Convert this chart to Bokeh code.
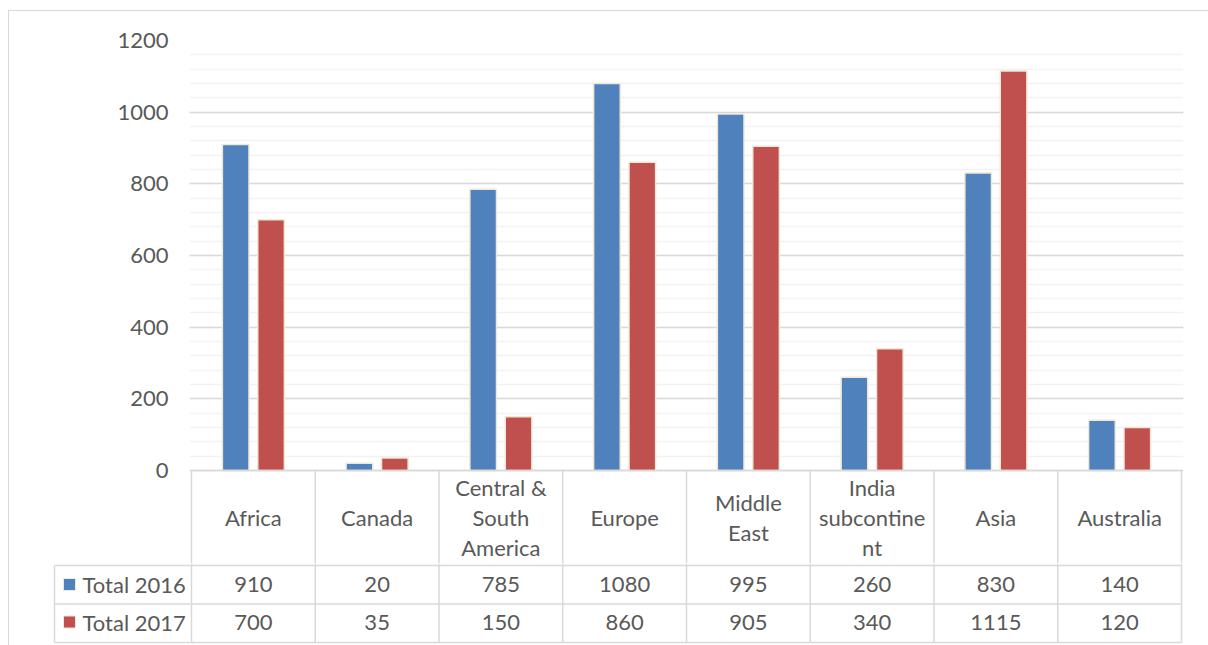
from bokeh.plotting import figure
from bokeh.layouts import column
from bokeh.models import Range1d, SingleIntervalTicker
from bokeh.core.properties import value
from bokeh.embed import file_html
from bokeh.resources import INLINE

# ---------------- data ----------------
categories = ["Africa", "Canada", "Central &\nSouth\nAmerica", "Europe", "Middle\nEast",
              "India\nsubcontine\nnt", "Asia", "Australia"]
series_names = ["Total 2016", "Total 2017"]
total_2016 = [910, 20, 785, 1080, 995, 260, 830, 140]
total_2017 = [700, 35, 150, 860, 905, 340, 1115, 120]
y_max = 1200
y_step = 200

# ---------------- style ----------------
BLUE = "#4F81BD"
RED = "#C0504D"
EDGE = "#EEE8D6"
TXT = "#595959"
GRID = "#D9D9D9"
MINOR = "#F2F2F2"
FONT = "Lato"
FS = "22px"

n = len(categories)
CAT_PX = 123.75          # pixels per category
PAD = 2 / CAT_PX         # small pad so edge lines are not clipped
off = 0.143
bw = 0.215
centers = [i + 0.5 for i in range(n)]

# top figure geometry (pixels inside the page)
FRAME_TOP = 40
FRAME_ZERO = 470
TOP_BOTTOM = 563
upp = y_max / (FRAME_ZERO - FRAME_TOP)          # data units per pixel
y_low = -(TOP_BOTTOM - FRAME_ZERO) * upp
header_mid = -(517 - FRAME_ZERO) * upp

p = figure(width=1199, height=TOP_BOTTOM - 11, x_range=Range1d(-PAD, n + PAD),
           y_range=Range1d(y_low, y_max), output_backend="svg", toolbar_location=None,
           min_border_left=180, min_border_right=25, min_border_top=FRAME_TOP - 11,
           min_border_bottom=0)
p.frame_align = False
p.xaxis.visible = False
p.outline_line_color = None
p.background_fill_color = "white"
p.border_fill_color = "white"
p.xgrid.grid_line_color = None

p.yaxis.ticker = SingleIntervalTicker(interval=y_step, num_minor_ticks=5)
p.yaxis.bounds = (0, y_max)
p.ygrid.bounds = (0, y_max)
p.ygrid.grid_line_color = GRID
p.ygrid.grid_line_width = 1.3
p.ygrid.minor_grid_line_color = MINOR
p.ygrid.minor_grid_line_width = 1.3
p.yaxis.axis_line_color = None
p.yaxis.major_tick_line_color = None
p.yaxis.minor_tick_line_color = None
p.yaxis.major_tick_out = 0
p.yaxis.minor_tick_out = 0
p.yaxis.major_label_text_font = FONT
p.yaxis.major_label_text_font_size = FS
p.yaxis.major_label_text_color = TXT
p.yaxis.major_label_standoff = 21

p.vbar(x=[c - off for c in centers], top=total_2016, width=bw, bottom=0,
       fill_color=BLUE, line_color=EDGE, line_width=1.5)
p.vbar(x=[c + off for c in centers], top=total_2017, width=bw, bottom=0,
       fill_color=RED, line_color=EDGE, line_width=1.5)

# header row of the data table
p.segment(x0=[0], y0=[0], x1=[n], y1=[0], line_color=GRID, line_width=1.5)
p.segment(x0=list(range(n + 1)), y0=[0] * (n + 1), x1=list(range(n + 1)),
          y1=[y_low] * (n + 1), line_color=GRID, line_width=1.5)
p.text(x=centers, y=[header_mid] * n, text=categories, text_align="center",
       text_baseline="middle", text_font=value(FONT), text_font_size=FS,
       text_color=TXT, text_line_height=1.12)

# ---------------- bottom: table rows ----------------
left_col = -(191 - 54) / CAT_PX
x_start = -(191 - 52) / CAT_PX
t = figure(width=1199, height=82, x_range=Range1d(x_start, n + PAD),
           y_range=Range1d(-3, 79), output_backend="svg", toolbar_location=None,
           min_border_left=43, min_border_right=25, min_border_top=0, min_border_bottom=0)
t.frame_align = False
t.axis.visible = False
t.grid.visible = False
t.outline_line_color = None

row_lines = [77, 38.5, 0]
t.segment(x0=[left_col] * 3, y0=row_lines, x1=[n] * 3, y1=row_lines,
          line_color=GRID, line_width=1.5)
t.segment(x0=list(range(n + 1)), y0=[0] * (n + 1), x1=list(range(n + 1)),
          y1=[79] * (n + 1), line_color=GRID, line_width=1.5)
t.segment(x0=[left_col], y0=[0], x1=[left_col], y1=[77], line_color=GRID, line_width=1.5)

row_y = [58, 20.5]
for vals, name, col, ry in [(total_2016, series_names[0], BLUE, row_y[0]),
                            (total_2017, series_names[1], RED, row_y[1])]:
    t.text(x=centers, y=[ry] * n, text=[str(v) for v in vals], text_align="center",
           text_baseline="middle", text_font=value(FONT), text_font_size=FS, text_color=TXT)
    t.scatter(x=[left_col + 15 / CAT_PX], y=[ry], marker="square", size=12,
              fill_color=col, line_color=EDGE, line_width=1)
    t.text(x=[left_col + 28 / CAT_PX], y=[ry], text=[name], text_align="left",
           text_baseline="middle", text_font=value(FONT), text_font_size=FS, text_color=TXT)

layout = column(p, t, spacing=0, margin=(10, 0, 0, 8),
                styles={"border-top": "1px solid #D9D9D9", "border-left": "1px solid #D9D9D9"})

open("out.html", "w").write(file_html(layout, INLINE))
